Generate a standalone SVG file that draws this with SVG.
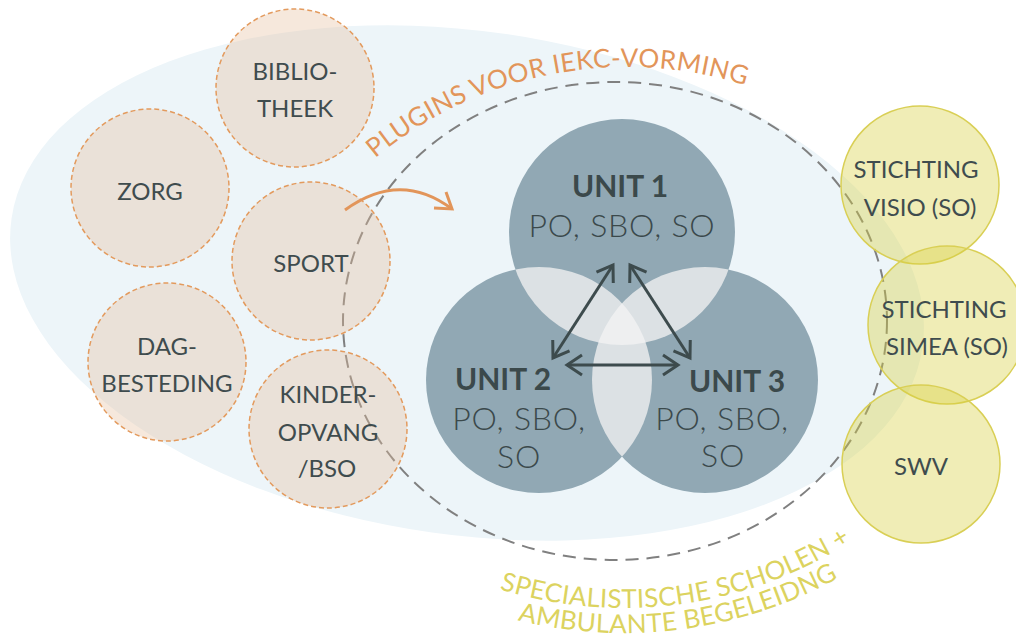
<svg xmlns="http://www.w3.org/2000/svg" width="1016" height="641" viewBox="0 0 1016 641">
<style>
.lbl{font-family:Lato,"Liberation Sans",sans-serif;font-size:24px;fill:#3f4c4e;text-anchor:middle}
.org{fill:rgba(229,189,155,0.35);stroke:#e39a5d;stroke-width:1.5;stroke-dasharray:5 3}
.yel{fill:rgba(216,207,63,0.38);stroke:#d9cf55;stroke-width:1.5}
.unit{fill:#91a8b4}
.ov2{fill:#dce1e4}
.ov3{fill:#eeeff0}
.ut{font-family:Lato,"Liberation Sans",sans-serif;fill:#3b494b;text-anchor:middle}
.ub{font-size:30px;font-weight:700}
.us{font-size:32px;font-weight:300;letter-spacing:0.8px}
.arr{stroke:#3d4b4d;stroke-width:3;fill:none;marker-start:url(#chev);marker-end:url(#chev)}
.curve{font-family:Lato,"Liberation Sans",sans-serif;font-size:26px;text-anchor:middle}
</style>
<defs>
<marker id="chev" markerUnits="userSpaceOnUse" markerWidth="30" markerHeight="30" viewBox="-20 -15 30 30" refX="0" refY="0" orient="auto-start-reverse">
<path d="M-15,-10 L0,0 L-15,10" fill="none" stroke="#3d4b4d" stroke-width="3"/>
</marker>
<marker id="oarr" markerUnits="userSpaceOnUse" markerWidth="30" markerHeight="30" viewBox="-20 -15 30 30" refX="0" refY="0" orient="auto">
<path d="M-15,-10 L0,0 L-15,10" fill="none" stroke="#e2955a" stroke-width="3"/>
</marker>
<clipPath id="c1"><circle cx="622" cy="232" r="113"/></clipPath>
<clipPath id="c2"><circle cx="539" cy="380" r="113"/></clipPath>
<path id="topArc" d="M257.7,325.6 A393,393 0 0 1 996.3,325.6"/>
<path id="botArc1" d="M327,485 A420,420 0 0 0 987.7,398"/>
<path id="botArc2" d="M309.3,502.7 A445,445 0 0 0 1009.4,410.5"/>
</defs>

<ellipse id="background" cx="467" cy="283" rx="460" ry="252" transform="rotate(8 467 283)" fill="#edf5f9"/>

<g id="iekc-boundary">
<ellipse cx="615" cy="321" rx="272" ry="239" fill="none" stroke="#808080" stroke-width="2" stroke-dasharray="13 8"/>
</g>

<g id="venn">
<circle class="unit" cx="622" cy="232" r="113"/>
<circle class="unit" cx="539" cy="380" r="113"/>
<circle class="unit" cx="705" cy="380" r="113"/>
<circle class="ov2" cx="539" cy="380" r="113" clip-path="url(#c1)"/>
<circle class="ov2" cx="705" cy="380" r="113" clip-path="url(#c1)"/>
<circle class="ov2" cx="705" cy="380" r="113" clip-path="url(#c2)"/>
<g clip-path="url(#c1)"><circle class="ov3" cx="705" cy="380" r="113" clip-path="url(#c2)"/></g>
</g>

<g id="unit1">
<text class="ut ub" x="620" y="197">UNIT 1</text>
<text class="ut us" x="622" y="237">PO, SBO, SO</text>
</g>
<g id="unit2">
<text class="ut ub" x="503" y="390">UNIT 2</text>
<text class="ut us" x="519" y="430">PO, SBO,</text>
<text class="ut us" x="519" y="468">SO</text>
</g>
<g id="unit3">
<text class="ut ub" x="737" y="392">UNIT 3</text>
<text class="ut us" x="722" y="430">PO, SBO,</text>
<text class="ut us" x="723" y="467">SO</text>
</g>

<g id="connectors">
<line class="arr" x1="613" y1="265" x2="553" y2="358"/>
<line class="arr" x1="630" y1="265" x2="690" y2="358"/>
<line class="arr" x1="567" y1="365" x2="678" y2="365"/>
</g>

<g id="bibliotheek">
<circle class="org" cx="295" cy="88" r="79"/>
<text class="lbl" x="295" y="80">BIBLIO-</text>
<text class="lbl" x="295" y="117">THEEK</text>
</g>
<g id="zorg">
<circle class="org" cx="150" cy="188" r="79"/>
<text class="lbl" x="150" y="200">ZORG</text>
</g>
<g id="sport">
<circle class="org" cx="311" cy="261" r="79"/>
<text class="lbl" x="311" y="272">SPORT</text>
</g>
<g id="dagbesteding">
<circle class="org" cx="167" cy="362" r="79"/>
<text class="lbl" x="167" y="355">DAG-</text>
<text class="lbl" x="167" y="392">BESTEDING</text>
</g>
<g id="kinderopvang">
<circle class="org" cx="328" cy="429" r="79"/>
<text class="lbl" x="328" y="403">KINDER-</text>
<text class="lbl" x="328" y="441">OPVANG</text>
<text class="lbl" x="327" y="477">/BSO</text>
</g>

<g id="visio">
<circle class="yel" cx="920" cy="185" r="79"/>
<text class="lbl" x="916" y="178">STICHTING</text>
<text class="lbl" x="920" y="216">VISIO (SO)</text>
</g>
<g id="simea">
<circle class="yel" cx="947" cy="325" r="79"/>
<text class="lbl" x="944" y="318">STICHTING</text>
<text class="lbl" x="947" y="355">SIMEA (SO)</text>
</g>
<g id="swv">
<circle class="yel" cx="921" cy="464" r="79"/>
<text class="lbl" x="921" y="475">SWV</text>
</g>

<g id="plugin-arrow">
<path d="M345,210 Q400,170 452,209" fill="none" stroke="#e2955a" stroke-width="3" marker-end="url(#oarr)"/>
</g>

<g id="curved-labels">
<text class="curve" fill="#e2955a" letter-spacing="0.4"><textPath href="#topArc" startOffset="403.7">PLUGINS VOOR IEKC-VORMING</textPath></text>
<text class="curve" fill="#dcd35f" letter-spacing="0.3"><textPath href="#botArc1" startOffset="386.7">SPECIALISTISCHE SCHOLEN +</textPath></text>
<text class="curve" fill="#dcd35f" letter-spacing="0.3"><textPath href="#botArc2" startOffset="407.7">AMBULANTE BEGELEIDNG</textPath></text>
</g>
</svg>
